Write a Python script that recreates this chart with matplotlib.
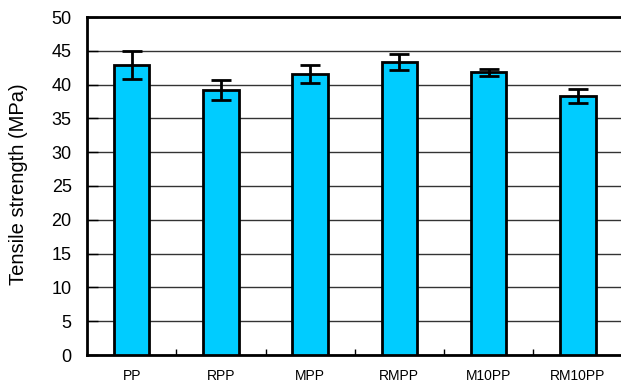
import matplotlib
matplotlib.use("Agg")
import matplotlib.pyplot as plt
import numpy as np
from matplotlib.ticker import FixedLocator

categories = ["PP", "RPP", "MPP", "RMPP", "M10PP", "RM10PP"]
values = [42.9, 39.2, 41.6, 43.3, 41.8, 38.3]
errors = [2.0, 1.5, 1.3, 1.2, 0.55, 1.05]
yticks = [0, 5, 10, 15, 20, 25, 30, 35, 40, 45, 50]

plt.rcParams['font.family'] = ['Liberation Sans', 'DejaVu Sans']

fig = plt.figure(figsize=(6.21, 3.85), dpi=100)
ax = fig.add_axes([87/621, 1-355/385, (622.5-87)/621, (355-17)/385])

x = np.arange(len(categories))
ax.bar(x, values, width=0.40, color="#00CCFF", edgecolor="black", linewidth=2, zorder=3)
ax.errorbar(x, values, yerr=errors, fmt="none", ecolor="black", elinewidth=2,
            capsize=7, capthick=2, zorder=4)

ax.set_xlim(-0.5, len(categories) - 0.5)
ax.set_ylim(0, 50)
ax.set_yticks(yticks)
ax.yaxis.grid(True, color="#333333", linewidth=1, zorder=0)
ax.set_axisbelow(True)

ax.set_xticks(x)
ax.set_xticklabels(categories, fontsize=10)
ax.tick_params(axis="x", which="major", length=0, pad=10)
ax.xaxis.set_minor_locator(FixedLocator(np.arange(0.5, len(categories) - 0.5, 1)))
ax.tick_params(axis="x", which="minor", direction="in", length=4, width=1)
ax.tick_params(axis="y", direction="in", length=8, width=1, labelsize=13, pad=11)

for s in ["left", "bottom", "top"]:
    ax.spines[s].set_linewidth(2)
ax.spines["right"].set_visible(False)

ax.set_ylabel("Tensile strength (MPa)", fontsize=14.5)
ax.yaxis.set_label_coords(-0.110, 0.505)

fig.savefig("out.png", dpi=100)
